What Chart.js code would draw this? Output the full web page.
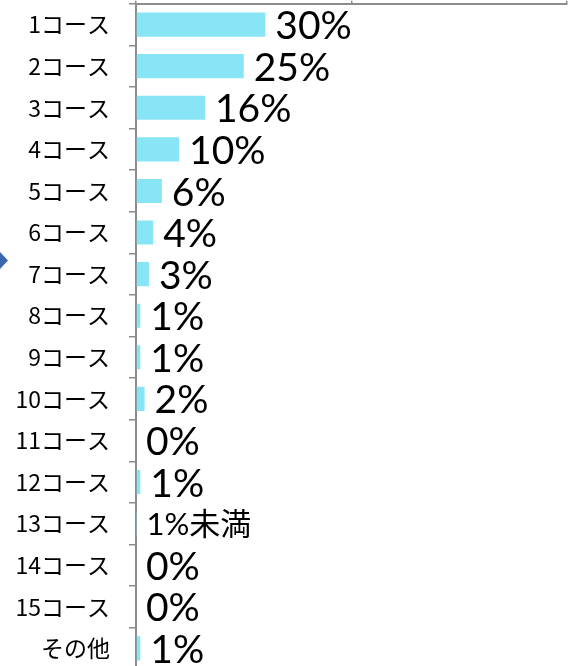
<!DOCTYPE html>
<html lang="ja">
<head>
<meta charset="utf-8">
<script src="https://cdn.jsdelivr.net/npm/chart.js@4"></script>
<style>
    html, body { margin: 0; padding: 0; background: #fff; overflow: hidden; }
    #wrap { position: relative; width: 568px; height: 731px; margin-top: -29px; }
    #marker {
        position: absolute; left: 0; top: 281px; width: 8px; height: 17px;
        background: #3a66ab;
        clip-path: polygon(0 0, 100% 50%, 0 100%);
    }
</style>
</head>
<body>
<div id="wrap">
    <canvas id="courseChart"></canvas>
    <div id="marker"></div>
</div>
<script>
// コース別の割合 (%)
const courses = ['1コース', '2コース', '3コース', '4コース', '5コース', '6コース', '7コース', '8コース',
                 '9コース', '10コース', '11コース', '12コース', '13コース', '14コース', '15コース', 'その他'];
const shares = [30, 25, 16, 10, 6, 4, 3, 1, 1, 2, 0, 1, 0.1, 0, 0, 1];
const shareLabels = ['30%', '25%', '16%', '10%', '6%', '4%', '3%', '1%',
                     '1%', '2%', '0%', '1%', '1%未満', '0%', '0%', '1%'];
const axisTicks = [0, 50, 100];

const GRAY = '#8c8c8c';

// 棒の右側に値ラベルを描く
const valueLabels = {
    id: 'valueLabels',
    afterDatasetsDraw(chart) {
        const { ctx, scales } = chart;
        ctx.save();
        ctx.fillStyle = '#000';
        ctx.textAlign = 'left';
        ctx.textBaseline = 'middle';
        shares.forEach((v, i) => {
            const x = scales.x.getPixelForValue(v);
            const y = scales.y.getPixelForValue(i);
            const small = shareLabels[i].includes('未満');
            ctx.font = small ? '31px Lato, "Noto Sans CJK JP"' : '39px Lato';
            ctx.fillText(shareLabels[i], x + 10, y + (small ? 1 : 2));
        });
        ctx.restore();
    }
};

new Chart(document.getElementById('courseChart').getContext('2d'), {
    type: 'bar',
    data: {
        labels: courses,
        datasets: [{
            data: shares,
            backgroundColor: '#87e5f6',
            borderWidth: 0,
            barPercentage: 0.58,
            categoryPercentage: 1
        }]
    },
    options: {
        indexAxis: 'y',
        responsive: true,
        maintainAspectRatio: false,
        animation: false,
        layout: { padding: { left: 0, right: 1, top: 0, bottom: 0 } },
        plugins: {
            legend: { display: false },
            tooltip: { enabled: false }
        },
        scales: {
            x: {
                position: 'top',
                min: 0,
                max: 100,
                afterBuildTicks: (s) => { s.ticks = axisTicks.map(v => ({ value: v })); },
                afterFit: (s) => { s.height = 3; },
                ticks: { display: false },
                grid: { drawOnChartArea: false, tickLength: 3, color: GRAY, lineWidth: 1.5 },
                border: { color: GRAY, width: 2 }
            },
            y: {
                afterFit: (s) => { s.width = 136; },
                ticks: {
                    color: '#000',
                    padding: 19,
                    font: { family: '"Noto Sans CJK JP"', size: 23 }
                },
                grid: { offset: true, drawOnChartArea: false, tickLength: 7, color: GRAY, lineWidth: 1.5 },
                border: { color: GRAY, width: 2 }
            }
        }
    },
    plugins: [valueLabels]
});
</script>
</body>
</html>
